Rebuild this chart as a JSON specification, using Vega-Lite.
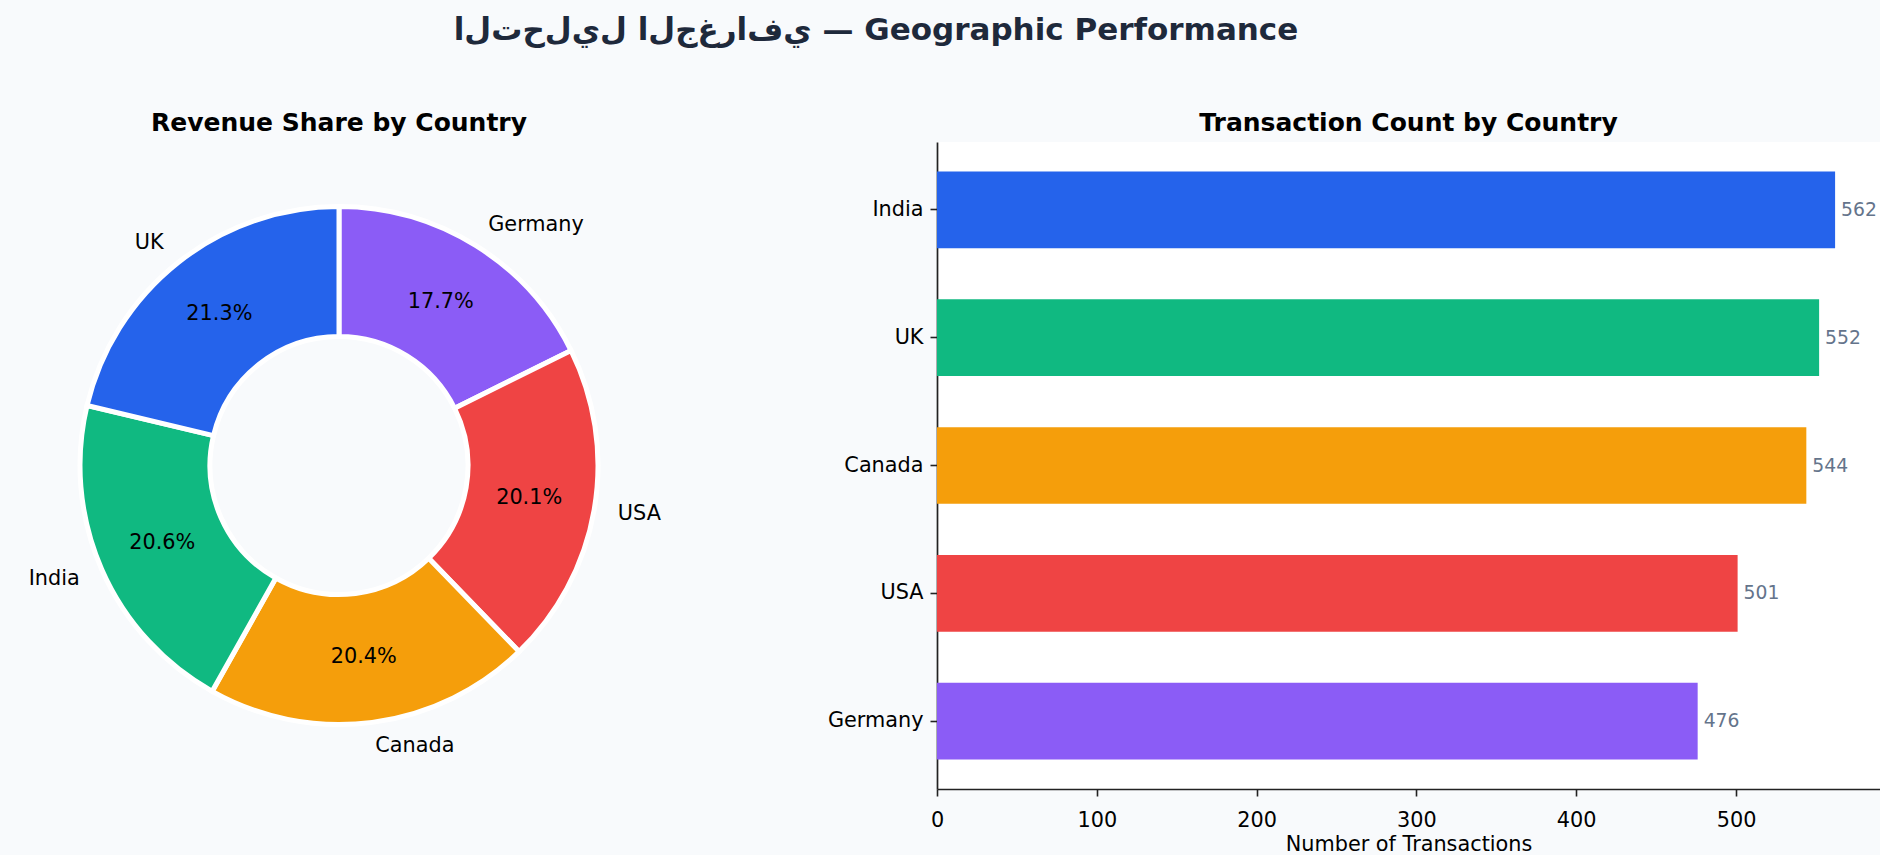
{
  "$schema": "https://vega.github.io/schema/vega-lite/v6.json",
  "background": "#f8fafc",
  "padding": {"left": 0, "top": 15, "right": 0, "bottom": 0},
  "title": {
    "text": "\u202D\uFE8D\uFEDD\uFE95\uFEA1\uFEDD\uFEF1\uFEDD \uFE8D\uFEDD\uFE9D\uFECD\uFEAD\uFE8D\uFED1\uFEF1 — Geographic Performance\u202C",
    "font": "DejaVu Sans",
    "fontSize": 31,
    "fontWeight": "bold",
    "color": "#1e293b",
    "anchor": "middle",
    "dx": -64,
    "offset": 64
  },
  "datasets": {
    "share": [
      {"country": "Germany", "share": 0.177, "rank": 1},
      {"country": "USA", "share": 0.201, "rank": 2},
      {"country": "Canada", "share": 0.204, "rank": 3},
      {"country": "India", "share": 0.206, "rank": 4},
      {"country": "UK", "share": 0.213, "rank": 5}
    ],
    "count": [
      {"country": "India", "transactions": 562},
      {"country": "UK", "transactions": 552},
      {"country": "Canada", "transactions": 544},
      {"country": "USA", "transactions": 501},
      {"country": "Germany", "transactions": 476}
    ]
  },
  "spacing": 149,
  "hconcat": [
    {
      "width": 678,
      "height": 647,
      "title": {"text": "Revenue Share by Country", "fontSize": 25, "fontWeight": "bold", "color": "#000000", "font": "DejaVu Sans", "offset": 6},
      "data": {"name": "share"},
      "encoding": {
        "theta": {"field": "share", "type": "quantitative", "stack": true},
        "order": {"field": "rank", "type": "quantitative"},
        "color": {
          "field": "country",
          "type": "nominal",
          "legend": null,
          "scale": {
            "domain": ["UK", "India", "Canada", "USA", "Germany"],
            "range": ["#2563eb", "#10b981", "#f59e0b", "#ef4444", "#8b5cf6"]
          }
        }
      },
      "layer": [
        {"mark": {"type": "arc", "outerRadius": 259, "innerRadius": 129, "stroke": "#ffffff", "strokeWidth": 5}},
        {
          "mark": {"type": "text", "radius": 193, "fontSize": 20.8, "font": "DejaVu Sans", "color": "#000000"},
          "encoding": {"text": {"field": "share", "type": "quantitative", "format": ".1%"}, "color": {"value": "#000000"}}
        },
        {
          "mark": {"type": "text", "radius": 283, "align": "right", "baseline": "middle", "fontSize": 20.8, "font": "DejaVu Sans"},
          "encoding": {
            "text": {"condition": {"test": "indexof(['UK','India'], datum.country) >= 0", "field": "country"}, "value": ""},
            "color": {"value": "#000000"}
          }
        },
        {
          "mark": {"type": "text", "radius": 283, "align": "left", "baseline": "middle", "fontSize": 20.8, "font": "DejaVu Sans"},
          "encoding": {
            "text": {"condition": {"test": "indexof(['UK','India'], datum.country) < 0", "field": "country"}, "value": ""},
            "color": {"value": "#000000"}
          }
        }
      ]
    },
    {
      "width": 943,
      "height": 647,
      "title": {"text": "Transaction Count by Country", "fontSize": 25, "fontWeight": "bold", "color": "#000000", "font": "DejaVu Sans", "offset": 6},
      "data": {"name": "count"},
      "view": {"fill": "#ffffff", "stroke": null},
      "encoding": {
        "y": {
          "field": "country",
          "type": "nominal",
          "sort": ["India", "UK", "Canada", "USA", "Germany"],
          "scale": {"paddingInner": 0.4, "paddingOuter": 0.23},
          "axis": {
            "title": null,
            "labelFontSize": 20.8,
            "labelFont": "DejaVu Sans",
            "labelColor": "#000000",
            "labelPadding": 7,
            "tickSize": 7,
            "tickColor": "#222222",
            "tickWidth": 1.6,
            "domainColor": "#222222",
            "domainWidth": 1.7
          }
        },
        "x": {
          "field": "transactions",
          "type": "quantitative",
          "scale": {"domain": [0, 590.1], "nice": false},
          "axis": {
            "title": "Number of Transactions",
            "titleFontSize": 20.8,
            "titleFont": "DejaVu Sans",
            "titleFontWeight": "normal",
            "titleColor": "#000000",
            "titlePadding": 5,
            "values": [0, 100, 200, 300, 400, 500],
            "grid": false,
            "labelFlush": false,
            "labelFontSize": 20.8,
            "labelFont": "DejaVu Sans",
            "labelColor": "#000000",
            "labelPadding": 14,
            "tickSize": 7,
            "tickColor": "#222222",
            "tickWidth": 1.6,
            "domainColor": "#222222",
            "domainWidth": 1.7
          }
        }
      },
      "layer": [
        {
          "mark": {"type": "bar"},
          "encoding": {
            "color": {
              "field": "country",
              "type": "nominal",
              "legend": null,
              "scale": {
                "domain": ["India", "UK", "Canada", "USA", "Germany"],
                "range": ["#2563eb", "#10b981", "#f59e0b", "#ef4444", "#8b5cf6"]
              }
            }
          }
        },
        {
          "mark": {"type": "text", "align": "left", "baseline": "middle", "dx": 6, "fontSize": 18.75, "font": "DejaVu Sans", "color": "#64748b"},
          "encoding": {"text": {"field": "transactions", "type": "quantitative"}}
        }
      ]
    }
  ],
  "resolve": {"scale": {"color": "independent"}},
  "config": {
    "view": {"stroke": null},
    "axis": {"grid": false}
  }
}
